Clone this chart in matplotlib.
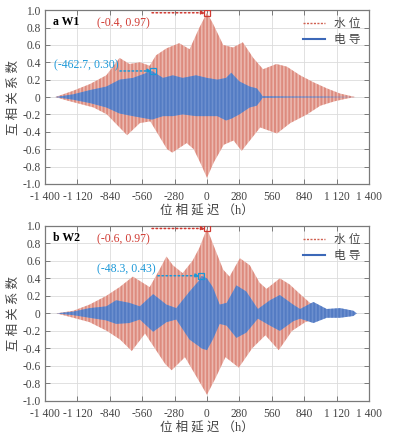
import numpy as np
import matplotlib
matplotlib.use('Agg')
from matplotlib import pyplot as plt
from matplotlib.lines import Line2D

plt.rcParams['font.family'] = ['Liberation Serif', 'Noto Sans CJK SC']
plt.rcParams['hatch.linewidth'] = 0.45

# envelope of the cross-correlation (lag in h)
w1_wl_lag_up = [-1310, -1160, -1010, -870, -755, -670, -580, -495, -440, -350, -240, -150, -65, 0,
                50, 140, 225, 310, 400, 485, 600, 690, 805, 920, 1035, 1150, 1280]
w1_wl_up = [0, 0.07, 0.15, 0.25, 0.45, 0.38, 0.40, 0.36, 0.48, 0.56, 0.62, 0.55, 0.80, 0.97,
            0.85, 0.60, 0.57, 0.63, 0.45, 0.32, 0.38, 0.35, 0.25, 0.17, 0.10, 0.04, 0]
w1_wl_lag_lo = [-1310, -1210, -980, -865, -690, -580, -490, -345, -300, -175, -115, -60, 0,
                60, 145, 230, 300, 460, 605, 720, 865, 980, 1100, 1200, 1280]
w1_wl_lo = [0, -0.04, -0.12, -0.20, -0.44, -0.30, -0.28, -0.60, -0.64, -0.53, -0.60, -0.75, -0.93,
            -0.75, -0.55, -0.50, -0.62, -0.35, -0.42, -0.30, -0.20, -0.10, -0.05, -0.02, 0]

w1_ec_lag = [-1310, -1160, -1010, -870, -755, -640, -475, -380, -295, -210, -95, 0,
             90, 165, 210, 280, 370, 430, 460, 480, 700, 1000, 1280]
w1_ec_up = [0, 0.03, 0.08, 0.12, 0.20, 0.22, 0.30, 0.22, 0.25, 0.22, 0.25, 0.22,
            0.20, 0.22, 0.28, 0.18, 0.12, 0.10, 0.05, 0.01, 0.006, 0.005, 0]
w1_ec_lo = [0, -0.03, -0.07, -0.12, -0.19, -0.22, -0.26, -0.22, -0.22, -0.20, -0.22, -0.22,
            -0.22, -0.27, -0.25, -0.20, -0.12, -0.10, -0.05, -0.01, -0.006, -0.005, 0]

w2_wl_lag_up = [-1300, -1155, -1015, -870, -755, -640, -555, -495, -410, -350, -295, -210, -125, -65, 0,
                65, 140, 195, 285, 370, 455, 515, 630, 715, 805, 890, 975, 1090, 1280]
w2_wl_up = [0, 0.03, 0.10, 0.20, 0.30, 0.42, 0.35, 0.30, 0.50, 0.65, 0.55, 0.46, 0.60, 0.75, 0.97,
            0.75, 0.50, 0.42, 0.63, 0.55, 0.35, 0.28, 0.40, 0.33, 0.22, 0.12, 0.05, 0.02, 0]
w2_wl_lag_lo = [-1300, -1155, -1015, -865, -750, -650, -535, -360, -305, -190, -70, 0,
                70, 160, 275, 390, 505, 620, 735, 850, 980, 1100, 1280]
w2_wl_lo = [0, -0.05, -0.10, -0.20, -0.30, -0.43, -0.23, -0.58, -0.65, -0.50, -0.77, -0.93,
            -0.75, -0.50, -0.62, -0.40, -0.25, -0.42, -0.20, -0.10, -0.04, -0.02, 0]

w2_ec_lag = [-1300, -1155, -1015, -870, -785, -670, -580, -465, -350, -265, -150, -65, -48, 0,
             50, 110, 170, 255, 340, 440, 545, 630, 745, 805, 920, 1035, 1150, 1265, 1295]
w2_ec_up = [0, 0.02, 0.06, 0.08, 0.15, 0.12, 0.08, 0.22, 0.10, 0.06, 0.25, 0.38, 0.43, 0.40,
            0.30, 0.10, 0.12, 0.32, 0.25, 0.05, 0.15, 0.21, 0.10, 0.05, 0.13, 0.05, 0.06, 0.03, 0]
w2_ec_lo = [0, -0.02, -0.05, -0.08, -0.12, -0.11, -0.07, -0.21, -0.10, -0.07, -0.30, -0.38, -0.40, -0.42,
            -0.30, -0.12, -0.14, -0.28, -0.22, -0.06, -0.14, -0.20, -0.09, -0.06, -0.11, -0.05, -0.05, -0.03, 0]

panel_names = ['a W1', 'b W2']
wl_peaks = [(-0.4, 0.97), (-0.6, 0.97)]
ec_peaks = [(-462.7, 0.30), (-48.3, 0.43)]

xticks = [-1400, -1120, -840, -560, -280, 0, 280, 560, 840, 1120, 1400]
xticklabels = ['-1 400', '-1 120', '-840', '-560', '-280', '0', '280', '560', '840', '1 120', '1 400']
yticks = [-1.0, -0.8, -0.6, -0.4, -0.2, 0, 0.2, 0.4, 0.6, 0.8, 1.0]
yticklabels = ['-1.0', '-0.8', '-0.6', '-0.4', '-0.2', '0', '0.2', '0.4', '0.6', '0.8', '1.0']

red = '#d06050'
red_face = '#f4d3cc'
blue = '#3c68b8'
blue_face = '#7b9bd6'
red_txt = '#d03a32'
blue_txt = '#1b98d8'
grey = '#7a7a7a'

fig = plt.figure(figsize=(3.98, 4.42), dpi=100)
axes = [fig.add_axes([0.113, 0.584, 0.814, 0.393]),
        fig.add_axes([0.113, 0.093, 0.814, 0.396])]

data = [(w1_wl_lag_up, w1_wl_up, w1_wl_lag_lo, w1_wl_lo, w1_ec_lag, w1_ec_up, w1_ec_lo),
        (w2_wl_lag_up, w2_wl_up, w2_wl_lag_lo, w2_wl_lo, w2_ec_lag, w2_ec_up, w2_ec_lo)]

for i, ax in enumerate(axes):
    lu, u, ll, l, el, eu, elo = data[i]
    px = np.concatenate([lu, ll[::-1]])
    py = np.concatenate([u, l[::-1]])
    ax.fill(px, py, facecolor=red_face, edgecolor=red, hatch='|' * 12, linewidth=0, zorder=2)
    ex = np.concatenate([el, el[::-1]])
    ey = np.concatenate([eu, elo[::-1]])
    ax.fill(ex, ey, facecolor=blue_face, edgecolor=blue, hatch='|' * 12, linewidth=0, zorder=3)

    ax.set_xlim(-1400, 1400)
    ax.set_ylim(-1, 1)
    ax.set_xticks(xticks)
    ax.set_xticklabels(xticklabels)
    ax.set_yticks(yticks)
    ax.set_yticklabels(yticklabels)
    ax.grid(True, color='#dcdcdc', linewidth=0.6, zorder=0)
    ax.set_axisbelow(True)
    ax.tick_params(direction='in', top=True, right=True, length=3.5, width=0.7,
                   color=grey, labelsize=8.3, labelcolor='#444444', pad=3)
    ax.tick_params(axis='x', pad=5)
    for s in ax.spines.values():
        s.set_color(grey)
        s.set_linewidth(0.9)
    ax.set_ylabel('互 相 关 系 数', fontsize=9, color='#444444', labelpad=2)
    ax.set_xlabel('位 相 延 迟 （h）', fontsize=9, color='#444444', labelpad=1)

    ax.text(0.025, 0.93, panel_names[i], transform=ax.transAxes, fontsize=8.5,
            fontweight='bold', va='center', ha='left', zorder=6)

    # peak markers + labels
    wx, wy = wl_peaks[i]
    ax.plot(wx, wy, 's', mfc='none', mec=red_txt, ms=4, mew=0.9, zorder=7)
    ax.annotate('', xy=(wx - 12, wy), xytext=(-475, wy),
                arrowprops=dict(arrowstyle='-|>', linestyle=':', color=red_txt, lw=1.1,
                                mutation_scale=6, shrinkA=0, shrinkB=0), zorder=7)
    ax.text(-720, wy - 0.12, '(%.1f, %.2f)' % (wx, wy), color=red_txt, fontsize=8.5,
            ha='center', va='center', zorder=7)

    bx, by = ec_peaks[i]
    ax.plot(bx, by, 's', mfc='none', mec=blue_txt, ms=4, mew=0.9, zorder=7)
    if i == 0:
        tx, sx = -765, -752
    else:
        tx, sx = -440, -424
    ax.annotate('', xy=(bx - 12, by), xytext=(sx, by),
                arrowprops=dict(arrowstyle='-|>', linestyle=':', color=blue_txt, lw=1.1,
                                mutation_scale=6, shrinkA=0, shrinkB=0), zorder=7)
    ax.text(tx, by + 0.07, '(%.1f, %.2f)' % (bx, by), color=blue_txt, fontsize=8.5,
            ha='right', va='center', zorder=7)

    handles = [Line2D([], [], color=red, linestyle=(0, (1.5, 1)), lw=1.0),
               Line2D([], [], color=blue, linestyle='-', lw=1.5)]
    leg = ax.legend(handles, ['水 位', '电 导'], loc='upper right', frameon=False,
                    fontsize=8.5, handlelength=1.8, handletextpad=0.8,
                    borderaxespad=0.3, labelspacing=0.3)
    for t in leg.get_texts():
        t.set_color('#444444')

fig.savefig('out.png', dpi=100)
